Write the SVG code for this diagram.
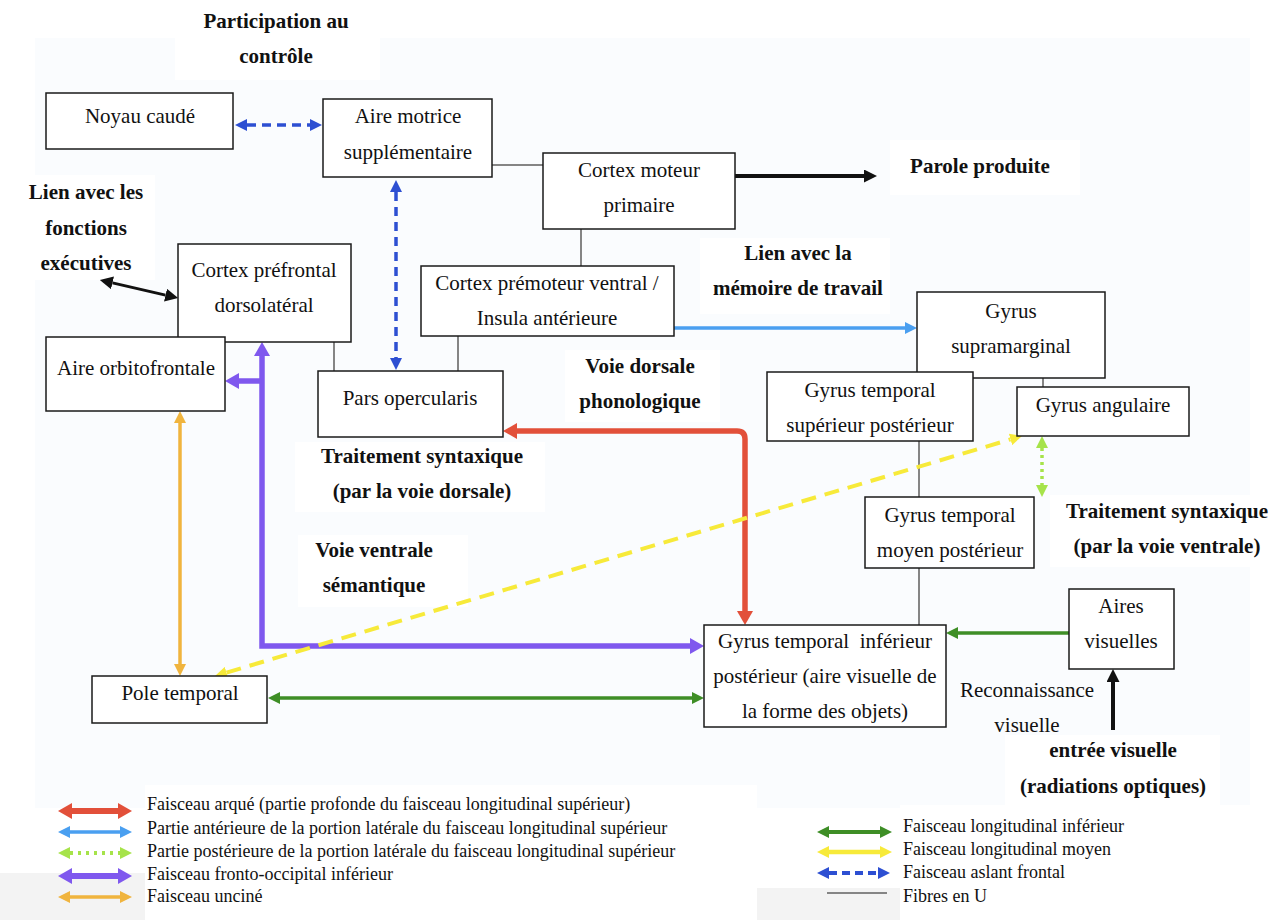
<svg xmlns="http://www.w3.org/2000/svg" width="1281" height="920" viewBox="0 0 1281 920">
<defs>
<style>
.node rect{fill:#ffffff;stroke:#1a1a1a;stroke-width:1.5}
.t{font-size:21px;fill:#111;text-anchor:middle}
.b{font-size:21px;font-weight:bold;fill:#111;text-anchor:middle}
.lg{font-size:18px;fill:#111}
.u{stroke:#858585;stroke-width:2;fill:none}
</style>
<marker id="mRed" markerUnits="userSpaceOnUse" markerWidth="14" markerHeight="16" refX="0" refY="8" orient="auto-start-reverse"><path d="M0,0 L14,8 L0,16 Z" fill="#e2503a"/></marker>
<marker id="mPur" markerUnits="userSpaceOnUse" markerWidth="14" markerHeight="16" refX="0" refY="8" orient="auto-start-reverse"><path d="M0,0 L14,8 L0,16 Z" fill="#7f58ee"/></marker>
<marker id="mBlu" markerUnits="userSpaceOnUse" markerWidth="12" markerHeight="12" refX="0" refY="6" orient="auto-start-reverse"><path d="M0,0 L12,6 L0,12 Z" fill="#4a9ff0"/></marker>
<marker id="mDb" markerUnits="userSpaceOnUse" markerWidth="12" markerHeight="12" refX="0" refY="6" orient="auto-start-reverse"><path d="M0,0 L12,6 L0,12 Z" fill="#2d4fd2"/></marker>
<marker id="mGrn" markerUnits="userSpaceOnUse" markerWidth="12" markerHeight="12" refX="0" refY="6" orient="auto-start-reverse"><path d="M0,0 L12,6 L0,12 Z" fill="#3e8e26"/></marker>
<marker id="mLg" markerUnits="userSpaceOnUse" markerWidth="12" markerHeight="12" refX="0" refY="6" orient="auto-start-reverse"><path d="M0,0 L12,6 L0,12 Z" fill="#a6e34a"/></marker>
<marker id="mOr" markerUnits="userSpaceOnUse" markerWidth="12" markerHeight="12" refX="0" refY="6" orient="auto-start-reverse"><path d="M0,0 L12,6 L0,12 Z" fill="#f0b43e"/></marker>
<marker id="mYel" markerUnits="userSpaceOnUse" markerWidth="12" markerHeight="12" refX="0" refY="6" orient="auto-start-reverse"><path d="M0,0 L12,6 L0,12 Z" fill="#f7ea3a"/></marker>
<marker id="mBlk" markerUnits="userSpaceOnUse" markerWidth="13" markerHeight="13" refX="0" refY="6.5" orient="auto-start-reverse"><path d="M0,0 L13,6.5 L0,13 Z" fill="#111"/></marker>
</defs>

<rect x="0" y="0" width="1281" height="920" fill="#ffffff"/>
<rect x="35" y="38" width="1215" height="770" fill="#fafcfe"/>
<rect x="0" y="888" width="1281" height="32" fill="#f3f3f3"/>
<rect x="0" y="873" width="145" height="47" fill="#f3f3f3"/>
<rect x="145" y="785" width="612" height="135" fill="#ffffff"/>
<rect x="900" y="805" width="381" height="115" fill="#ffffff"/>

<g fill="#ffffff">
<rect x="175" y="0" width="205" height="80"/>
<rect x="20" y="175" width="135" height="105"/>
<rect x="890" y="140" width="190" height="55"/>
<rect x="700" y="238" width="190" height="76"/>
<rect x="565" y="350" width="155" height="72"/>
<rect x="295" y="442" width="250" height="70"/>
<rect x="298" y="535" width="170" height="72"/>
<rect x="1050" y="495" width="225" height="72"/>
<rect x="1005" y="735" width="215" height="70"/>
</g>

<g id="connectors" fill="none">
<line class="u" x1="492" y1="165" x2="543" y2="165"/>
<line class="u" x1="581" y1="229" x2="581" y2="266"/>
<line class="u" x1="334" y1="342" x2="334" y2="371"/>
<line class="u" x1="458" y1="336" x2="458" y2="371"/>
<line class="u" x1="1043" y1="378" x2="1043" y2="387"/>
<line class="u" x1="919" y1="441" x2="919" y2="497"/>
<line class="u" x1="919" y1="568" x2="919" y2="625"/>
<line x1="247" y1="125" x2="310" y2="125" stroke="#2d4fd2" stroke-width="3.5" stroke-dasharray="9,6" marker-start="url(#mDb)" marker-end="url(#mDb)"/>
<line x1="396" y1="192" x2="396" y2="358" stroke="#2d4fd2" stroke-width="3.5" stroke-dasharray="9,6" marker-start="url(#mDb)" marker-end="url(#mDb)"/>
<line x1="735" y1="176" x2="864" y2="176" stroke="#111" stroke-width="4" marker-end="url(#mBlk)"/>
<line x1="112.5" y1="282.9" x2="165.5" y2="295.1" stroke="#111" stroke-width="3" marker-start="url(#mBlk)" marker-end="url(#mBlk)"/>
<line x1="1113" y1="730" x2="1113" y2="682" stroke="#111" stroke-width="4" marker-end="url(#mBlk)"/>
<line x1="674" y1="328" x2="905" y2="328" stroke="#4a9ff0" stroke-width="3.5" marker-end="url(#mBlu)"/>
<path d="M517 431 H737 Q745 431 745 439 V611" stroke="#e2503a" stroke-width="5.5" marker-start="url(#mRed)" marker-end="url(#mRed)"/>
<path d="M262 356 V646 H690" stroke="#7f58ee" stroke-width="5.5" marker-start="url(#mPur)" marker-end="url(#mPur)"/>
<path d="M262 381 H239" stroke="#7f58ee" stroke-width="5.5" marker-end="url(#mPur)"/>
<line x1="180" y1="423" x2="180" y2="664" stroke="#f0b43e" stroke-width="3.5" marker-start="url(#mOr)" marker-end="url(#mOr)"/>
<line x1="226.5" y1="672.6" x2="1010.5" y2="439.4" stroke="#f7ea3a" stroke-width="4" stroke-dasharray="15,9" marker-start="url(#mYel)" marker-end="url(#mYel)"/>
<line x1="1042" y1="448" x2="1042" y2="485" stroke="#a6e34a" stroke-width="3.5" stroke-dasharray="3,4" marker-start="url(#mLg)" marker-end="url(#mLg)"/>
<line x1="1069" y1="633" x2="958" y2="633" stroke="#3e8e26" stroke-width="3.5" marker-end="url(#mGrn)"/>
<line x1="280" y1="698" x2="692" y2="698" stroke="#3e8e26" stroke-width="3.5" marker-start="url(#mGrn)" marker-end="url(#mGrn)"/>
</g>

<g font-family="'Liberation Serif', 'DejaVu Serif', 'Times New Roman', serif">
<g id="noyau-caude" class="node"><rect x="46" y="93" width="187" height="56"/><text class="t" x="140" y="123">Noyau caudé</text></g>
<g id="aire-motrice" class="node"><rect x="323" y="99" width="169" height="78"/><text class="t" x="408" y="123">Aire motrice</text><text class="t" x="408" y="159">supplémentaire</text></g>
<g id="cortex-moteur" class="node"><rect x="543" y="153" width="192" height="76"/><text class="t" x="639" y="177">Cortex moteur</text><text class="t" x="639" y="212">primaire</text></g>
<g id="cortex-prefrontal" class="node"><rect x="178" y="244" width="173" height="98"/><text class="t" x="264" y="277">Cortex préfrontal</text><text class="t" x="264" y="312">dorsolatéral</text></g>
<g id="aire-orbitofrontale" class="node"><rect x="46" y="337" width="179" height="74"/><text class="t" x="136" y="375">Aire orbitofrontale</text></g>
<g id="cortex-premoteur" class="node"><rect x="421" y="266" width="253" height="70"/><text class="t" x="547" y="290">Cortex prémoteur ventral /</text><text class="t" x="547" y="325">Insula antérieure</text></g>
<g id="pars-opercularis" class="node"><rect x="318" y="371" width="185" height="66"/><text class="t" x="410" y="405">Pars opercularis</text></g>
<g id="gyrus-supramarginal" class="node"><rect x="917" y="292" width="188" height="86"/><text class="t" x="1011" y="318">Gyrus</text><text class="t" x="1011" y="353">supramarginal</text></g>
<g id="gyrus-temporal-superieur" class="node"><rect x="767" y="372" width="206" height="69"/><text class="t" x="870" y="397">Gyrus temporal</text><text class="t" x="870" y="432">supérieur postérieur</text></g>
<g id="gyrus-angulaire" class="node"><rect x="1017" y="387" width="172" height="49"/><text class="t" x="1103" y="412">Gyrus angulaire</text></g>
<g id="gyrus-temporal-moyen" class="node"><rect x="865" y="497" width="169" height="71"/><text class="t" x="950" y="522">Gyrus temporal</text><text class="t" x="950" y="557">moyen postérieur</text></g>
<g id="aires-visuelles" class="node"><rect x="1069" y="589" width="105" height="80"/><text class="t" x="1121" y="613">Aires</text><text class="t" x="1121" y="648">visuelles</text></g>
<g id="gyrus-temporal-inferieur" class="node"><rect x="704" y="625" width="242" height="102"/><text class="t" x="825" y="648" xml:space="preserve">Gyrus temporal  inférieur</text><text class="t" x="825" y="683">postérieur (aire visuelle de</text><text class="t" x="825" y="718">la forme des objets)</text></g>
<g id="pole-temporal" class="node"><rect x="92" y="676" width="175" height="47"/><text class="t" x="180" y="700">Pole temporal</text></g>

<g id="labels">
<text class="b" x="276" y="28">Participation au</text>
<text class="b" x="276" y="63">contrôle</text>
<text class="b" x="86" y="199">Lien avec les</text>
<text class="b" x="86" y="235">fonctions</text>
<text class="b" x="86" y="270">exécutives</text>
<text class="b" x="980" y="173">Parole produite</text>
<text class="b" x="798" y="260">Lien avec la</text>
<text class="b" x="798" y="295">mémoire de travail</text>
<text class="b" x="640" y="373">Voie dorsale</text>
<text class="b" x="640" y="408">phonologique</text>
<text class="b" x="422" y="463">Traitement syntaxique</text>
<text class="b" x="422" y="498">(par la voie dorsale)</text>
<text class="b" x="374" y="557">Voie ventrale</text>
<text class="b" x="374" y="592">sémantique</text>
<text class="b" x="1167" y="518">Traitement syntaxique</text>
<text class="b" x="1167" y="553">(par la voie ventrale)</text>
<text class="t" x="1027" y="697">Reconnaissance</text>
<text class="t" x="1027" y="732">visuelle</text>
<text class="b" x="1113" y="757">entrée visuelle</text>
<text class="b" x="1113" y="793">(radiations optiques)</text>
</g>

<g id="legend">
<g fill="none">
<line x1="72" y1="811" x2="118" y2="811" stroke="#e2503a" stroke-width="6" marker-start="url(#mRed)" marker-end="url(#mRed)"/>
<line x1="70" y1="832" x2="120" y2="832" stroke="#4a9ff0" stroke-width="3.5" marker-start="url(#mBlu)" marker-end="url(#mBlu)"/>
<line x1="70" y1="853" x2="120" y2="853" stroke="#a6e34a" stroke-width="4" stroke-dasharray="3,5" marker-start="url(#mLg)" marker-end="url(#mLg)"/>
<line x1="72" y1="876" x2="118" y2="876" stroke="#7f58ee" stroke-width="6" marker-start="url(#mPur)" marker-end="url(#mPur)"/>
<line x1="70" y1="897" x2="120" y2="897" stroke="#f0b43e" stroke-width="3.5" marker-start="url(#mOr)" marker-end="url(#mOr)"/>
<line x1="829" y1="832" x2="880" y2="832" stroke="#3e8e26" stroke-width="4" marker-start="url(#mGrn)" marker-end="url(#mGrn)"/>
<line x1="829" y1="852" x2="880" y2="852" stroke="#f7ea3a" stroke-width="4.5" marker-start="url(#mYel)" marker-end="url(#mYel)"/>
<line x1="829" y1="873" x2="878" y2="873" stroke="#2d4fd2" stroke-width="4" stroke-dasharray="8,5" marker-start="url(#mDb)" marker-end="url(#mDb)"/>
<line x1="827" y1="893" x2="887" y2="893" stroke="#858585" stroke-width="2"/>
</g>
<text class="lg" x="147" y="810">Faisceau arqué (partie profonde du faisceau longitudinal supérieur)</text>
<text class="lg" x="147" y="834">Partie antérieure de la portion latérale du faisceau longitudinal supérieur</text>
<text class="lg" x="147" y="857">Partie postérieure de la portion latérale du faisceau longitudinal supérieur</text>
<text class="lg" x="147" y="880">Faisceau fronto-occipital inférieur</text>
<text class="lg" x="147" y="902">Faisceau unciné</text>
<text class="lg" x="903" y="832">Faisceau longitudinal inférieur</text>
<text class="lg" x="903" y="855">Faisceau longitudinal moyen</text>
<text class="lg" x="903" y="878">Faisceau aslant frontal</text>
<text class="lg" x="903" y="902">Fibres en U</text>
</g>
</g>
</svg>
